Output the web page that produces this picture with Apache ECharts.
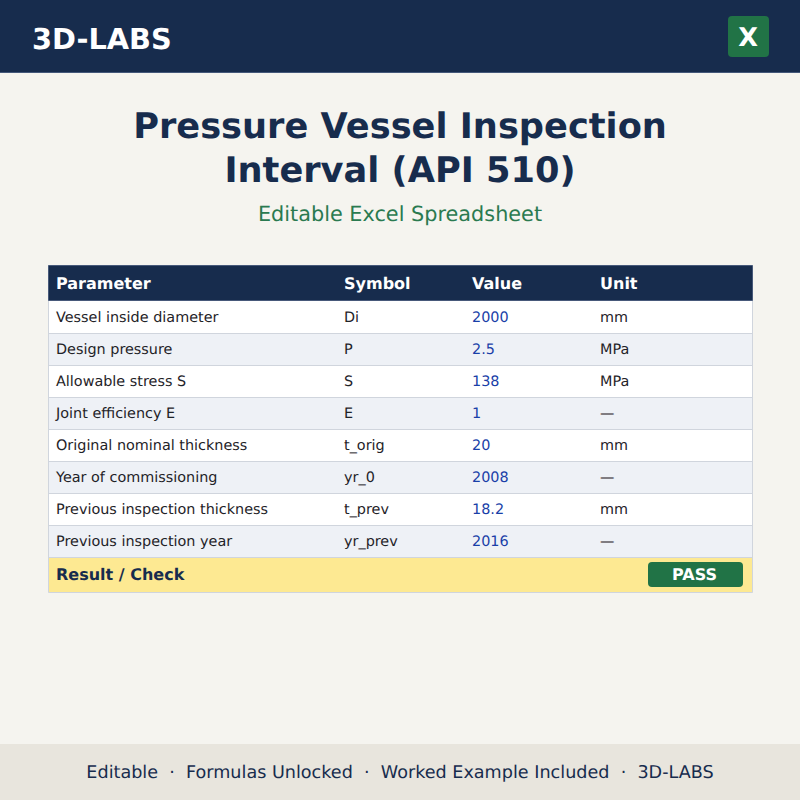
<!DOCTYPE html>
<html><head><meta charset="utf-8">
<style>html,body{margin:0;padding:0;background:#f5f4ef}#c{width:800px;height:800px}#c text{text-rendering:geometricPrecision}</style>
<script src="https://cdn.jsdelivr.net/npm/echarts@6/dist/echarts.min.js"></script>
</head><body><div id="c"></div>
<script>
const brand = '3D-LABS';
const titleLines = ['Pressure Vessel Inspection', 'Interval (API 510)'];
const subtitle = 'Editable Excel Spreadsheet';
const headers = ['Parameter', 'Symbol', 'Value', 'Unit'];
const parameters = ['Vessel inside diameter','Design pressure','Allowable stress S','Joint efficiency E','Original nominal thickness','Year of commissioning','Previous inspection thickness','Previous inspection year'];
const symbols = ['Di','P','S','E','t_orig','yr_0','t_prev','yr_prev'];
const values = ['2000','2.5','138','1','20','2008','18.2','2016'];
const units = ['mm','MPa','MPa','—','mm','—','mm','—'];
const resultLabel = 'Result / Check';
const resultStatus = 'PASS';
const footer = 'Editable  ·  Formulas Unlocked  ·  Worked Example Included  ·  3D-LABS';

const FONT = '"DejaVu Sans"';
const NAVY = '#172c4d', GREEN = '#217346', BG = '#f5f4ef', LINE = '#d0d5dd';
const colX = [8, 296, 424, 552];
const chart = echarts.init(document.getElementById('c'), null, {renderer:'svg', width:800, height:800});

function txt(x, y, text, size, color, weight, align) {
  return {type:'text', x, y, silent:true, style:{text, fontFamily:FONT, fontSize:size, fontWeight:weight||'normal', fill:color, align:align||'left', verticalAlign:'middle'}};
}
function rect(x, y, w, h, fill, extra) {
  return Object.assign({type:'rect', silent:true, shape:{x, y, width:w, height:h, r:(extra&&extra.r)||0}, style:Object.assign({fill}, (extra&&extra.style)||{})});
}

chart.setOption({
  animation:false,
  backgroundColor:BG,
  grid:{left:48, top:302, width:705, height:256},
  xAxis:{type:'value', min:0, max:705, show:false},
  yAxis:{type:'category', inverse:true, data:parameters, show:false},
  series:[{
    type:'custom',
    coordinateSystem:'cartesian2d',
    silent:true,
    encode:{x:1, y:0},
    data:parameters.map((p)=>[p, 0]),
    renderItem(params, api){
      const i = params.dataIndex;
      const c = api.coord([0, i]);
      const end = api.coord([705, i]);
      const h = api.size([0, 1])[1];
      const top = c[1] - h/2;
      const cols = [parameters[i], symbols[i], values[i], units[i]];
      const children = [
        {type:'rect', shape:{x:c[0], y:top-(i===0?1:0), width:end[0]-c[0], height:h+(i===0?1:0)}, style:{fill: i%2 ? '#eef1f6' : '#ffffff'}},
        {type:'line', shape:{x1:c[0], y1:top+h-0.5, x2:end[0], y2:top+h-0.5}, style:{stroke:LINE, lineWidth:1}},
        {type:'line', shape:{x1:c[0]+0.5, y1:top-1, x2:c[0]+0.5, y2:top+h}, style:{stroke:LINE, lineWidth:1}},
        {type:'line', shape:{x1:end[0]-0.5, y1:top-1, x2:end[0]-0.5, y2:top+h}, style:{stroke:LINE, lineWidth:1}}
      ];
      cols.forEach((t,k)=>{
        const p = api.coord([colX[k], i]);
        children.push({type:'text', x:p[0], y:p[1], style:{text:t, fontFamily:FONT, fontSize:14.4, fill:k===2?'#1a3fa8':'#1f2328', align:'left', verticalAlign:'middle'}});
      });
      return {type:'group', children};
    }
  }],
  graphic:{elements:[
    rect(0,0,800,72,NAVY),
    rect(0,72,800,1,'#44587a'),
    txt(32,39,brand,28.8,'#ffffff','bold'),
    rect(728,16,41,41,GREEN,{r:4}),
    txt(748,37.5,'X',25.6,'#ffffff','bold','center'),
    txt(400,126,titleLines[0],35.2,NAVY,'bold','center'),
    txt(400,170,titleLines[1],35.2,NAVY,'bold','center'),
    txt(400,214,subtitle,20.8,'#2a7a50','normal','center'),
    rect(48.5,265.5,704,35,NAVY,{style:{stroke:'#47597a',lineWidth:1}}),
    ...headers.map((h,k)=>txt(48+colX[k],283.5,h,16,'#ffffff','bold')),
    rect(48.5,557.5,704,35,'#fde992',{style:{stroke:LINE,lineWidth:1}}),
    txt(56,574.5,resultLabel,16,NAVY,'bold'),
    rect(648,562,95,25,GREEN,{r:4}),
    txt(694.5,574.5,resultStatus,16,'#ffffff','bold','center'),
    rect(0,744,800,56,'#e8e5dd'),
    txt(400,773,footer,17.6,NAVY,'normal','center')
  ]}
});
</script></body></html>
